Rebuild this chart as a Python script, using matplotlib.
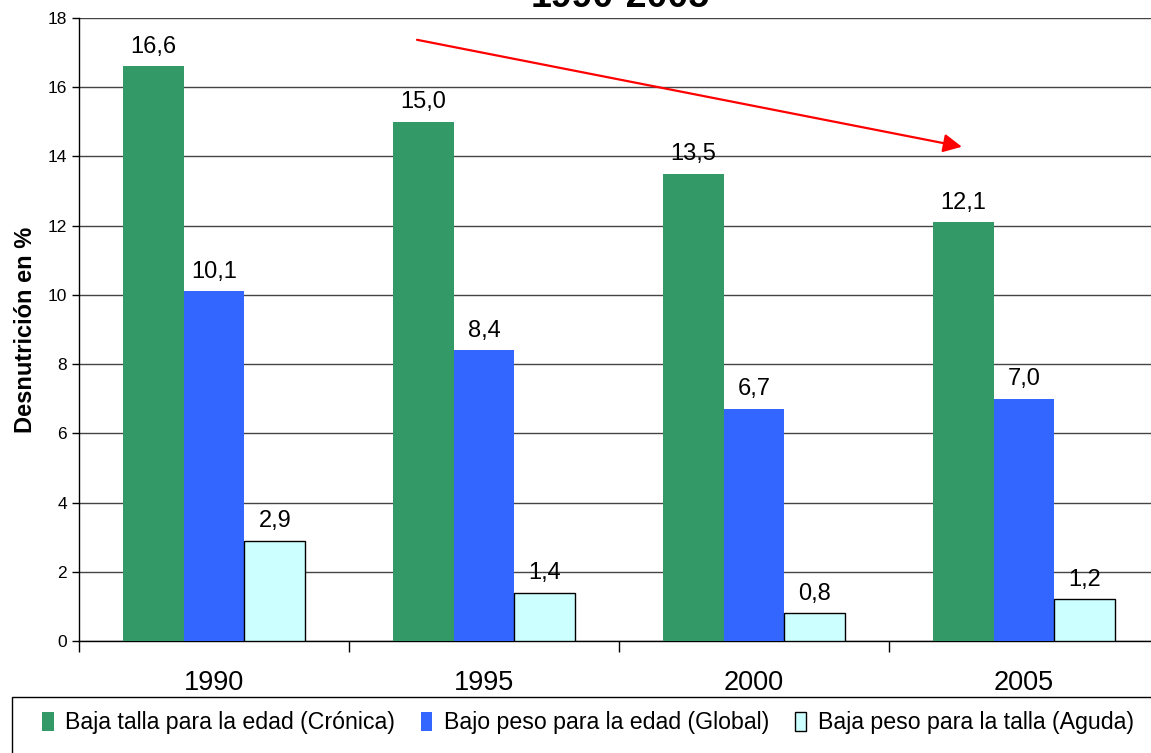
import numpy as np
import matplotlib
matplotlib.use("Agg")
import matplotlib.pyplot as plt
from matplotlib.patches import Rectangle

plt.rcParams['font.family'] = ['Liberation Sans', 'DejaVu Sans']

years = ['1990', '1995', '2000', '2005']
cronica = [16.6, 15.0, 13.5, 12.1]
global_ = [10.1, 8.4, 6.7, 7.0]
aguda = [2.9, 1.4, 0.8, 1.2]
series_names = ['Baja talla para la edad (Crónica)',
                'Bajo peso para la edad (Global)',
                'Baja peso para la talla (Aguda)']
colors = ['#339966', '#3366FF', '#CCFFFF']

fig = plt.figure(figsize=(11.51, 7.53), dpi=100)
ax = fig.add_axes([79 / 1151, 112 / 753, 1080 / 1151, 623 / 753])

x = np.arange(len(years))
w = 0.225
data = [cronica, global_, aguda]
for i, (vals, c) in enumerate(zip(data, colors)):
    ec = 'black' if i == 2 else c
    bars = ax.bar(x + (i - 1) * w, vals, w, color=c, edgecolor=ec,
                  linewidth=1.0 if i == 2 else 0, label=series_names[i], zorder=3)
    for b, v in zip(bars, vals):
        ax.text(b.get_x() + b.get_width() / 2, v + 0.25,
                ('%.1f' % v).replace('.', ','), ha='center', va='bottom',
                fontsize=17, zorder=4)

ax.set_xlim(-0.5, len(years) - 0.5)
ax.set_ylim(0, 18)
ax.set_yticks(np.arange(0, 19, 2))
ax.tick_params(axis='y', labelsize=12.5, length=5, width=1, direction='out')
ax.set_xticks(np.arange(-0.5, len(years), 1.0))
ax.set_xticklabels([])
ax.set_xticks(x, minor=True)
ax.set_xticklabels(years, minor=True, fontsize=19.5)
ax.tick_params(axis='x', which='major', length=8, width=1, direction='out')
ax.tick_params(axis='x', which='minor', length=0, pad=21)
ax.grid(axis='y', color='#444444', linewidth=1, zorder=0)
for s in ['top', 'right']:
    ax.spines[s].set_visible(False)
ax.spines['left'].set_linewidth(1)
ax.spines['bottom'].set_linewidth(1)
ax.set_ylabel('Desnutrición en %', fontsize=17, fontweight='bold', labelpad=8)

# trend arrow
ax.annotate('', xy=(2.77, 14.28), xytext=(0.752, 17.37),
            arrowprops=dict(arrowstyle='-|>', color='red', lw=1.6,
                            mutation_scale=28, shrinkA=0, shrinkB=0),
            annotation_clip=False, zorder=5)

# cut-off title
fig.text(620 / 1151, 1 - 7 / 753, '1990-2005', ha='center', va='baseline',
         fontsize=27, fontweight='bold')

# legend box
fig.patches.append(Rectangle((12 / 1151, -0.1), 1.2, 0.1 + (753 - 697) / 753,
                             transform=fig.transFigure, facecolor='white',
                             edgecolor='black', linewidth=1, zorder=1))
handles, labels = ax.get_legend_handles_labels()
fig.legend(handles, labels, loc='center', bbox_to_anchor=(588 / 1151, 1 - 723 / 753),
           ncol=3, frameon=False, fontsize=16.7, handlelength=0.5,
           handleheight=0.9, handletextpad=0.5, columnspacing=1.1)

fig.savefig('out.png', dpi=100)
